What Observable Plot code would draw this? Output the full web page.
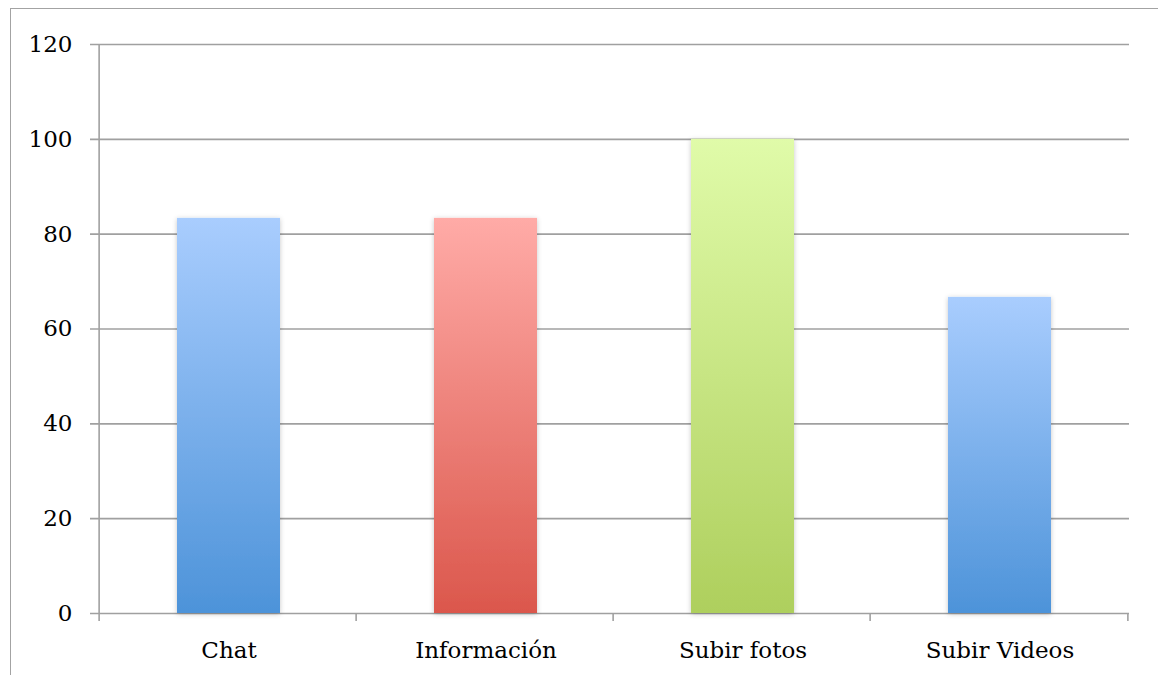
<!DOCTYPE html>
<html>
<head>
<meta charset="utf-8">
<script src="https://cdn.jsdelivr.net/npm/d3@7"></script>
<script src="https://cdn.jsdelivr.net/npm/@observablehq/plot@0.6"></script>
<style>
  html, body { margin: 0; padding: 0; background: #fff; }
  #wrap { position: relative; width: 1158px; height: 675px; overflow: hidden; }
  #border { position: absolute; left: 10px; top: 8px; width: 1200px; height: 700px;
            border-left: 1.5px solid #a3a3a3; border-top: 1.5px solid #a3a3a3; pointer-events: none; }
  #chart { position: absolute; left: 0; top: 0; }
</style>
</head>
<body>
<div id="wrap"><div id="border"></div><div id="chart"></div></div>
<script>
// ---- data ----
const categories = ["Chat", "Información", "Subir fotos", "Subir Videos"];
const values = [83.33, 83.33, 100, 66.67];
const yTicks = [0, 20, 40, 60, 80, 100, 120];

// ---- styles (gradient top/bottom colours per bar) ----
const gradTop = ["#a9cdfe", "#ffaba7", "#e0fba9", "#a9cdfe"];
const gradBottom = ["#4d93d9", "#db574c", "#aecf5d", "#4d93d9"];

const data = categories.map((c, i) => ({category: c, value: values[i], idx: i}));

const W = 1158, H = 675;
const mL = 98, mR = 29, mT = 44, mB = 62;
const step = (W - mL - mR) / categories.length;
const font = "DejaVu Serif";

const gridColor = "#a0a0a0";

const svg = Plot.plot({
  width: W,
  height: H,
  marginLeft: mL,
  marginRight: mR,
  marginTop: mT,
  marginBottom: mB,
  style: {fontFamily: font, fontSize: "23px", color: "#000", background: "transparent"},
  x: {domain: categories, padding: 0, label: null},
  y: {domain: [0, 120], label: null},
  marks: [
    Plot.ruleY(yTicks, {stroke: gridColor, strokeWidth: 1.6, insetLeft: -8}),
    Plot.barY(data, {
      x: "category",
      y: "value",
      fill: d => `url(#grad${d.idx})`,
      insetLeft: 77,
      insetRight: 77
    }),
    Plot.ruleX(data.slice(1), {x: "category", y1: 0, y2: 0, insetBottom: -8, dx: -step / 2 - 1, stroke: gridColor, strokeWidth: 1.6}),
    Plot.ruleX(data.slice(0, 1), {x: "category", y1: 120, y2: 0, insetBottom: -8, dx: -step / 2 - 1, stroke: gridColor, strokeWidth: 1.6}),
    Plot.ruleX(data.slice(-1), {x: "category", y1: 0, y2: 0, insetBottom: -8, dx: step / 2 - 1, stroke: gridColor, strokeWidth: 1.6}),
    Plot.axisY(yTicks, {tickSize: 0, tickPadding: 26, label: null, fill: "#000"}),
    Plot.axisX({tickSize: 0, tickPadding: 28, label: null, fill: "#000"})
  ]
});

const defs = d3.select(svg).insert("defs", ":first-child");
categories.forEach((c, i) => {
  const g = defs.append("linearGradient")
    .attr("id", `grad${i}`)
    .attr("x1", 0).attr("y1", 0).attr("x2", 0).attr("y2", 1);
  g.append("stop").attr("offset", "0%").attr("stop-color", gradTop[i]);
  g.append("stop").attr("offset", "100%").attr("stop-color", gradBottom[i]);
});
const f = defs.append("filter").attr("id", "shadow")
  .attr("x", "-20%").attr("y", "-20%").attr("width", "140%").attr("height", "140%");
f.append("feDropShadow").attr("dx", 0).attr("dy", 1).attr("stdDeviation", 2.5)
  .attr("flood-color", "#000").attr("flood-opacity", 0.22);
d3.select(svg).selectAll('g[aria-label="bar"] rect').attr("filter", "url(#shadow)");

document.getElementById("chart").appendChild(svg);
</script>
</body>
</html>
